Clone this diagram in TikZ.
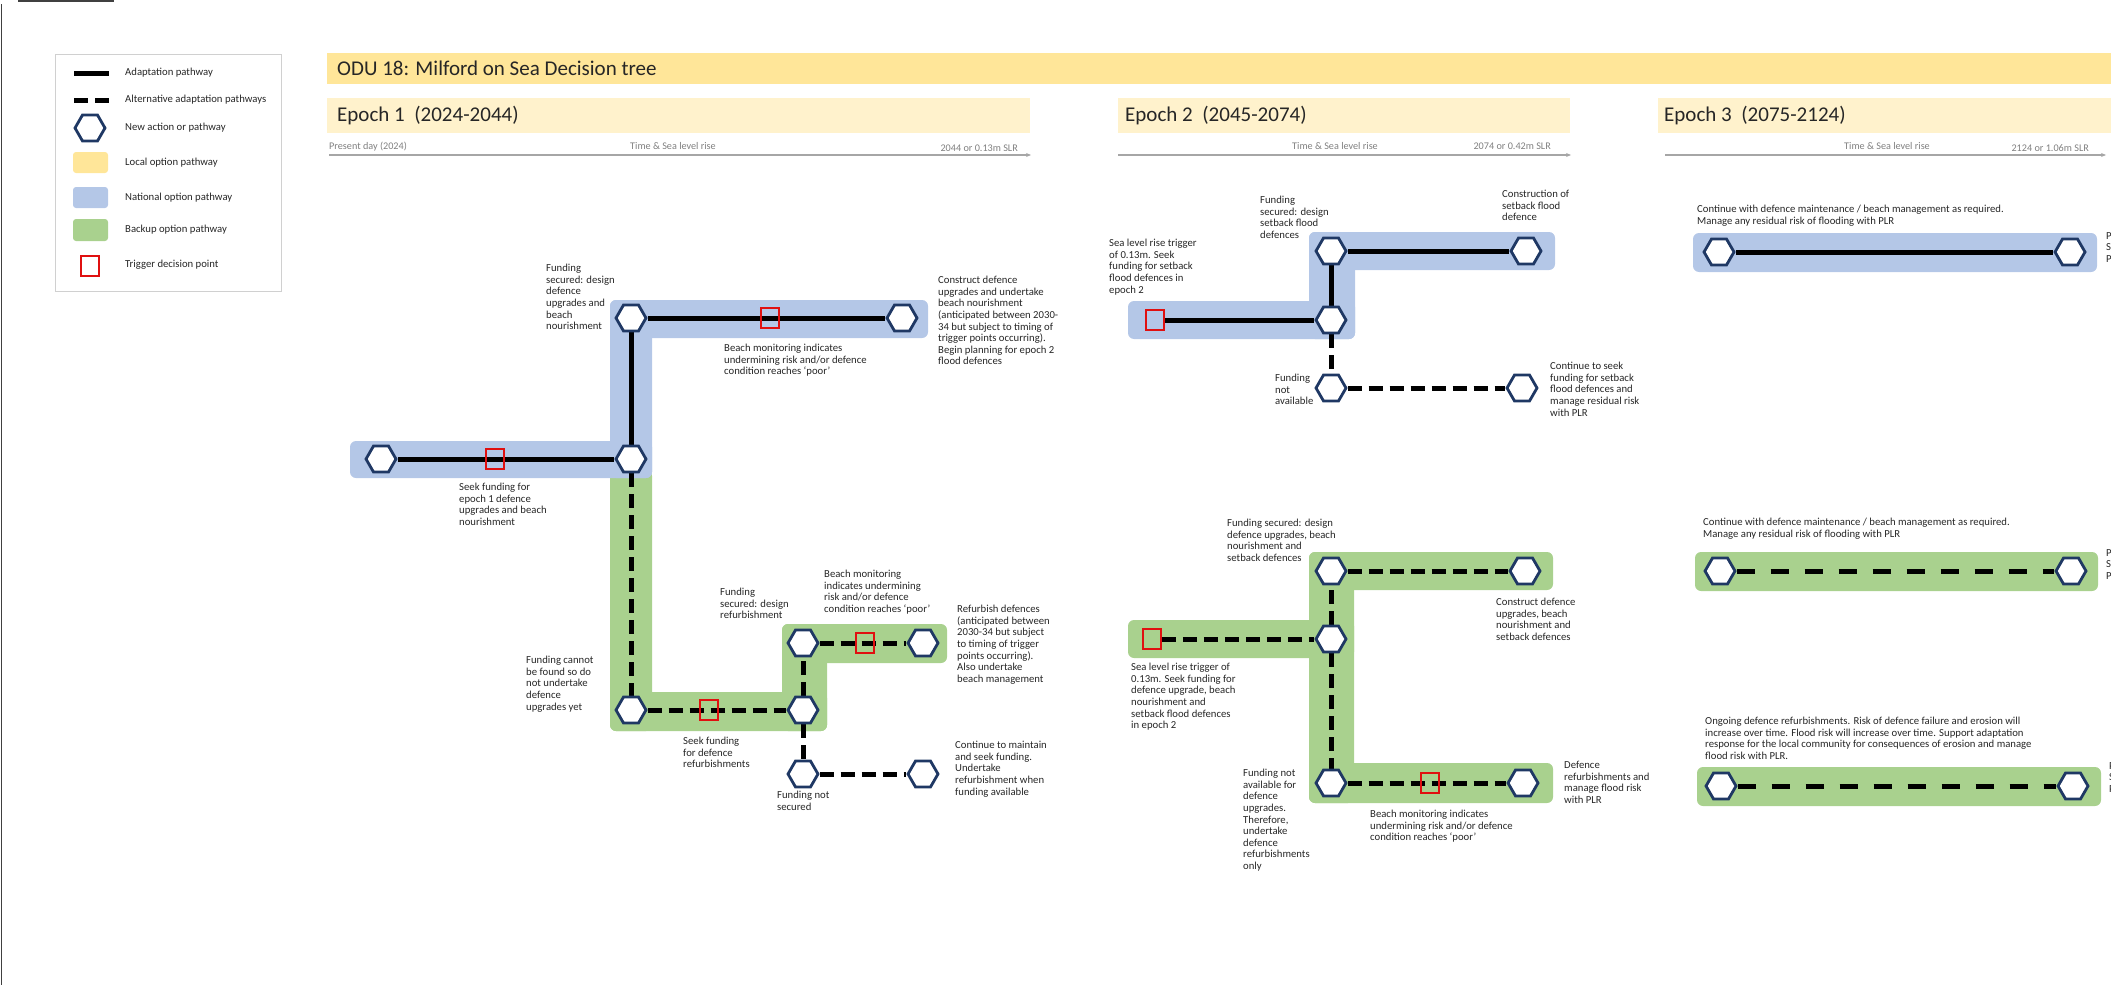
\documentclass[tikz,border=0pt]{standalone}
\usepackage{fontspec}
\setmainfont{Carlito}
\usetikzlibrary{shapes.geometric,arrows.meta}
\pgfdeclarelayer{bands}
\pgfdeclarelayer{links}
\pgfsetlayers{bands,links,main}

\definecolor{titlebar}{HTML}{FFE699}
\definecolor{epochbar}{HTML}{FFF2CC}
\definecolor{natblue}{HTML}{B4C7E7}
\definecolor{backgreen}{HTML}{A9D18E}
\definecolor{localyellow}{HTML}{FFE699}
\definecolor{hexblue}{HTML}{1F3864}
\definecolor{trigred}{HTML}{E01010}
\definecolor{txt}{HTML}{262626}
\definecolor{axisgray}{HTML}{808080}
\definecolor{axisrule}{HTML}{A6A6A6}
\definecolor{framegray}{HTML}{D0D0D0}
\definecolor{edgegray}{HTML}{404040}

\begin{document}
\begin{tikzpicture}[x=1pt,y=-1pt,
  hexnode/.style={regular polygon, regular polygon sides=6, minimum size=30pt,
    inner sep=0pt, draw=hexblue, line width=2.8pt, fill=white},
  trigbox/.style={rectangle, draw=trigred, line width=1.8pt,
    minimum width=18pt, minimum height=20pt, inner sep=0pt},
  mainroute/.style={line width=5pt, black},
  altroute/.style={line width=5pt, black, dash pattern=on 14pt off 7pt},
  longalt/.style={line width=5pt, black, dash pattern=on 18pt off 16pt},
  lbl/.style={anchor=north west, align=left, inner sep=0pt,
    font=\fontsize{10.7}{11.6}\selectfont, text=txt},
  axislbl/.style={inner sep=0pt, font=\fontsize{10.2}{12}\selectfont, text=axisgray},
  axisline/.style={draw=axisrule, line width=1.2pt, -{Stealth[length=5pt,width=4pt]}},
  heading/.style={anchor=west, inner sep=0pt, font=\fontsize{21}{25}\selectfont, text=txt},
  natband/.style={fill=natblue, rounded corners=6pt},
  backband/.style={fill=backgreen, rounded corners=6pt},
  keytext/.style={anchor=west, inner sep=0pt, font=\fontsize{10.7}{12}\selectfont, text=txt},
]
\useasboundingbox (0,0) rectangle (2111,985);

% page edge rules
\draw[edgegray, line width=1.2pt] (18,1) -- (114,1);
\draw[edgegray, line width=1.2pt] (1.5,4) -- (1.5,985);

% ---------------- legend ----------------
\draw[framegray, line width=0.8pt] (55,54) rectangle (281,291);
\coordinate (k1a) at (74,73);  \coordinate (k1b) at (109,73);
\coordinate (k2a) at (74,100); \coordinate (k2b) at (109,100);
\draw[mainroute] (k1a) -- (k1b);
\draw[line width=5pt, dash pattern=on 14pt off 7pt] (k2a) -- (k2b);
\node[hexnode] (khex) at (90,128) {};
\fill[localyellow, rounded corners=3pt] (73,152) rectangle (108,173);
\fill[natblue, rounded corners=3pt] (73,187) rectangle (108,208);
\fill[backgreen, rounded corners=3pt] (73,219) rectangle (108,241);
\node[trigbox] (ktrig) at (90,266) {};
\node[keytext] (kt1) at (125,73) {Adaptation pathway};
\node[keytext] (kt2) at (125,100) {Alternative adaptation pathways};
\node[keytext] (kt3) at (125,128) {New action or pathway};
\node[keytext] (kt4) at (125,163) {Local option pathway};
\node[keytext] (kt5) at (125,198) {National option pathway};
\node[keytext] (kt6) at (125,230) {Backup option pathway};
\node[keytext] (kt7) at (125,265) {Trigger decision point};

% ---------------- headings ----------------
\fill[titlebar] (327,53) rectangle (2111,84);
\node[heading] (title) at (337,68.5) {ODU 18: Milford on Sea Decision tree};
\fill[epochbar] (327,98) rectangle (1030,133);
\fill[epochbar] (1118,98) rectangle (1570,133);
\fill[epochbar] (1658,98) rectangle (2111,133);
\node[heading] (ep1) at (337,115.5) {Epoch 1\ \ (2024-2044)};
\node[heading] (ep2) at (1125,115.5) {Epoch 2\ \ (2045-2074)};
\node[heading] (ep3) at (1664,115.5) {Epoch 3\ \ (2075-2124)};

% time axes
\coordinate (ax1s) at (329,155);  \coordinate (ax1e) at (1031,155);
\coordinate (ax2s) at (1118,155); \coordinate (ax2e) at (1571,155);
\coordinate (ax3s) at (1665,155); \coordinate (ax3e) at (2106,155);
\draw[axisline] (ax1s) -- (ax1e);
\draw[axisline] (ax2s) -- (ax2e);
\draw[axisline] (ax3s) -- (ax3e);
\node[axislbl, anchor=base west] (pd) at (329,149) {Present day (2024)};
\node[axislbl, anchor=base] (ts1) at (673,149) {Time \& Sea level rise};
\node[axislbl, anchor=base east] (ye1) at (1018,151) {2044 or 0.13m SLR};
\node[axislbl, anchor=base] (ts2) at (1335,149) {Time \& Sea level rise};
\node[axislbl, anchor=base east] (ye2) at (1551,149) {2074 or 0.42m SLR};
\node[axislbl, anchor=base] (ts3) at (1887,149) {Time \& Sea level rise};
\node[axislbl, anchor=base east] (ye3) at (2089,151) {2124 or 1.06m SLR};

% ---------------- option bands ----------------
\begin{pgfonlayer}{bands}
  % epoch 1
  \fill[backband] (610,470) rectangle (652,731);
  \fill[backband] (610,692) rectangle (827,731);
  \fill[backband] (782,624) rectangle (827,731);
  \fill[backband] (782,624) rectangle (947,663);
  \fill[natband] (350,441) rectangle (652,478);
  \fill[natband] (610,300) rectangle (652,478);
  \fill[natband] (610,300) rectangle (928,338);
  % epoch 2
  \fill[natband] (1128,301) rectangle (1355,339);
  \fill[natband] (1309,232) rectangle (1355,339);
  \fill[natband] (1309,232) rectangle (1555,270);
  \fill[backband] (1128,620) rectangle (1354,658);
  \fill[backband] (1309,552) rectangle (1354,803);
  \fill[backband] (1309,552) rectangle (1553,590);
  \fill[backband] (1309,763) rectangle (1553,803);
  % epoch 3
  \fill[natband] (1693,233) rectangle (2097,272);
  \fill[backband] (1695,552) rectangle (2098,591);
  \fill[backband] (1697,767) rectangle (2101,806);
\end{pgfonlayer}

% ---------------- epoch 1 ----------------
\node[hexnode] (a) at (381,459) {};
\node[hexnode] (b) at (631,459) {};
\node[hexnode] (c) at (631,318) {};
\node[hexnode] (d) at (902,318) {};
\node[hexnode] (e) at (631,710) {};
\node[hexnode] (f) at (803,710) {};
\node[hexnode] (g) at (803,643) {};
\node[hexnode] (h) at (923,643) {};
\node[hexnode] (i) at (803,774) {};
\node[hexnode] (j) at (923,774) {};
\node[trigbox] (r1) at (495,459) {};
\node[trigbox] (r2) at (770,318) {};
\node[trigbox] (r3) at (709,710) {};
\node[trigbox] (r4) at (865,643) {};
\begin{pgfonlayer}{links}
  \draw[mainroute] (a) -- (b);
  \draw[mainroute] (b) -- (c);
  \draw[mainroute] (c) -- (d);
  \draw[altroute] (b) -- (e);
  \draw[altroute] (e) -- (f);
  \draw[altroute] (f) -- (g);
  \draw[altroute] (g) -- (h);
  \draw[altroute] (f) -- (i);
  \draw[altroute] (i) -- (j);
\end{pgfonlayer}

\node[lbl] (la1) at (546,264) {Funding\\secured: design\\defence\\upgrades and\\beach\\nourishment};
\node[lbl] (la2) at (938,276) {Construct defence\\upgrades and undertake\\beach nourishment\\(anticipated between 2030-\\34 but subject to timing of\\trigger points occurring).\\Begin planning for epoch 2\\flood defences};
\node[lbl] (la3) at (724,344) {Beach monitoring indicates\\undermining risk and/or defence\\condition reaches ‘poor’};
\node[lbl] (la4) at (459,483) {Seek funding for\\epoch 1 defence\\upgrades and beach\\nourishment};
\node[lbl] (la5) at (526,656) {Funding cannot\\be found so do\\not undertake\\defence\\upgrades yet};
\node[lbl] (la6) at (720,588) {Funding\\secured: design\\refurbishment};
\node[lbl] (la7) at (824,570) {Beach monitoring\\indicates undermining\\risk and/or defence\\condition reaches ‘poor’};
\node[lbl] (la8) at (957,605) {Refurbish defences\\(anticipated between\\2030-34 but subject\\to timing of trigger\\points occurring).\\Also undertake\\beach management};
\node[lbl] (la9) at (683,737) {Seek funding\\for defence\\refurbishments};
\node[lbl] (la10) at (955,741) {Continue to maintain\\and seek funding.\\Undertake\\refurbishment when\\funding available};
\node[lbl] (la11) at (777,791) {Funding not\\secured};

% ---------------- epoch 2 ----------------
\node[trigbox] (t1) at (1155,320) {};
\node[hexnode] (k) at (1331,320) {};
\node[hexnode] (l) at (1331,251) {};
\node[hexnode] (m) at (1526,251) {};
\node[hexnode] (n) at (1331,388) {};
\node[hexnode] (o) at (1522,388) {};
\node[trigbox] (t2) at (1152,639) {};
\node[hexnode] (p) at (1331,639) {};
\node[hexnode] (q) at (1331,571) {};
\node[hexnode] (r) at (1525,571) {};
\node[hexnode] (s) at (1331,783) {};
\node[hexnode] (t) at (1523,783) {};
\node[trigbox] (r5) at (1430,783) {};
\begin{pgfonlayer}{links}
  \draw[mainroute] (t1) -- (k);
  \draw[mainroute] (k) -- (l);
  \draw[mainroute] (l) -- (m);
  \draw[altroute] (k) -- (n);
  \draw[altroute] (n) -- (o);
  \draw[altroute] (t2) -- (p);
  \draw[altroute] (p) -- (q);
  \draw[altroute] (q) -- (r);
  \draw[altroute] (p) -- (s);
  \draw[altroute] (s) -- (t);
\end{pgfonlayer}

\node[lbl] (lb1) at (1109,239) {Sea level rise trigger\\of 0.13m. Seek\\funding for setback\\flood defences in\\epoch 2};
\node[lbl] (lb2) at (1260,196) {Funding\\secured: design\\setback flood\\defences};
\node[lbl] (lb3) at (1502,190) {Construction of\\setback flood\\defence};
\node[lbl] (lb4) at (1275,374) {Funding\\not\\available};
\node[lbl] (lb5) at (1550,362) {Continue to seek\\funding for setback\\flood defences and\\manage residual risk\\with PLR};
\node[lbl] (lb6) at (1227,519) {Funding secured: design\\defence upgrades, beach\\nourishment and\\setback defences};
\node[lbl] (lb7) at (1496,598) {Construct defence\\upgrades, beach\\nourishment and\\setback defences};
\node[lbl] (lb8) at (1131,663) {Sea level rise trigger of\\0.13m. Seek funding for\\defence upgrade, beach\\nourishment and\\setback flood defences\\in epoch 2};
\node[lbl] (lb9) at (1243,769) {Funding not\\available for\\defence\\upgrades.\\Therefore,\\undertake\\defence\\refurbishments\\only};
\node[lbl] (lb10) at (1370,810) {Beach monitoring indicates\\undermining risk and/or defence\\condition reaches ‘poor’};
\node[lbl] (lb11) at (1564,761) {Defence\\refurbishments and\\manage flood risk\\with PLR};

% ---------------- epoch 3 ----------------
\node[hexnode] (u) at (1719,252) {};
\node[hexnode] (v) at (2070,252) {};
\node[hexnode] (w) at (1720,571) {};
\node[hexnode] (x) at (2071,571) {};
\node[hexnode] (y) at (1721,786) {};
\node[hexnode] (z) at (2073,786) {};
\begin{pgfonlayer}{links}
  \draw[mainroute] (u) -- (v);
  \draw[longalt] (w) -- (x);
  \draw[longalt] (y) -- (z);
\end{pgfonlayer}

\node[lbl] (lc1) at (1697,205) {Continue with defence maintenance / beach management as required.\\Manage any residual risk of flooding with PLR};
\node[lbl] (lc2) at (1703,518) {Continue with defence maintenance / beach management as required.\\Manage any residual risk of flooding with PLR};
\node[lbl] (lc3) at (1705,717) {Ongoing defence refurbishments. Risk of defence failure and erosion will\\increase over time. Flood risk will increase over time. Support adaptation\\response for the local community for consequences of erosion and manage\\flood risk with PLR.};
\node[lbl] (lc4) at (2106,232) {P\\S\\P};
\node[lbl] (lc5) at (2106,549) {P\\S\\P};
\node[lbl] (lc6) at (2109,762) {P\\S\\P};
\end{tikzpicture}
\end{document}
